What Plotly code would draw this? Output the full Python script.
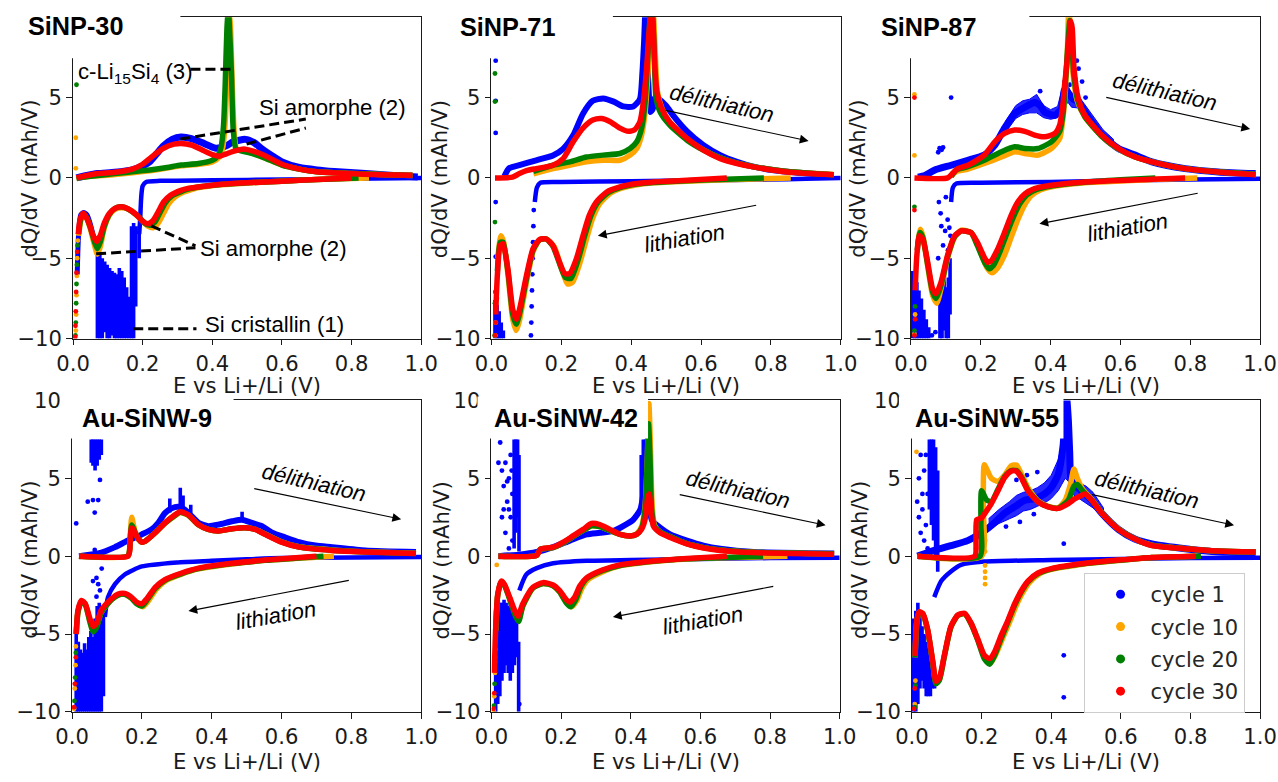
import plotly.graph_objects as go

# ---------------- labels ----------------
cycle_names = ["cycle 1", "cycle 10", "cycle 20", "cycle 30"]
cycle_colors = ["#0000ff", "#ffa500", "#008000", "#ff0000"]
panel_titles = ["SiNP-30", "SiNP-71", "SiNP-87", "Au-SiNW-9", "Au-SiNW-42", "Au-SiNW-55"]
x_tick_vals = [0.0, 0.2, 0.4, 0.6, 0.8, 1.0]
x_tick_text = ["0.0", "0.2", "0.4", "0.6", "0.8", "1.0"]
y_tick_vals = [-10, -5, 0, 5, 10]
y_tick_text = ["\u221210", "\u22125", "0", "5", "10"]
x_title = "E vs Li+/Li (V)"
y_title = "dQ/dV (mAh/V)"

# ---------------- data: (E [V], dQ/dV [mAh/V]) ----------------
# ---- SiNP-30 ----
p1_c1_delith = [(0.01,0.0),(0.04,0.15),(0.07,0.27),(0.12,0.35),(0.17,0.5),(0.2,0.75),(0.22,1.0),(0.24,1.5),(0.26,2.0),(0.285,2.4),(0.31,2.55),(0.34,2.45),(0.37,2.2),(0.41,1.85),(0.44,2.0),(0.46,2.25),(0.495,2.4),(0.52,2.2),(0.54,1.85),(0.57,1.4),(0.6,1.0),(0.65,0.65),(0.7,0.5),(0.75,0.4),(0.84,0.27),(0.92,0.15),(0.99,0.06)]
p1_c10_delith = [(0.01,0.0),(0.05,0.1),(0.12,0.22),(0.22,0.45),(0.31,0.75),(0.36,0.85),(0.4,1.0),(0.42,1.3),(0.43,1.9),(0.437,3.5),(0.442,6.5),(0.447,10.5),(0.452,9.5),(0.457,6.0),(0.463,2.8),(0.47,1.8),(0.49,1.7),(0.52,1.5),(0.55,1.25),(0.6,0.8),(0.65,0.55),(0.7,0.38),(0.8,0.28),(0.9,0.2),(0.975,0.15)]
p1_c20_delith = [(0.01,0.0),(0.05,0.1),(0.12,0.27),(0.17,0.38),(0.22,0.5),(0.27,0.65),(0.31,0.8),(0.36,0.9),(0.4,1.1),(0.415,1.35),(0.425,1.9),(0.432,3.2),(0.437,5.8),(0.442,9.3),(0.446,10.5),(0.45,9.0),(0.455,6.5),(0.46,3.0),(0.468,1.8),(0.48,1.7),(0.51,1.55),(0.55,1.25),(0.6,0.8),(0.65,0.55),(0.7,0.38),(0.8,0.28),(0.9,0.2),(0.975,0.17)]
p1_c30_delith = [(0.01,0.0),(0.04,0.15),(0.07,0.27),(0.12,0.35),(0.17,0.55),(0.2,0.85),(0.22,1.2),(0.24,1.55),(0.26,1.85),(0.29,2.1),(0.31,2.15),(0.34,2.05),(0.37,1.75),(0.4,1.45),(0.42,1.35),(0.44,1.5),(0.46,1.65),(0.49,1.8),(0.52,1.65),(0.55,1.4),(0.6,0.85),(0.65,0.55),(0.7,0.38),(0.79,0.27),(0.88,0.2),(0.975,0.17)]
p1_c1_lith = [(1.0,0.0),(0.8,-0.05),(0.6,-0.1),(0.4,-0.15),(0.25,-0.18),(0.21,-0.25),(0.2,-0.5),(0.197,-0.9),(0.195,-1.5),(0.193,-2.5),(0.19,-3.5)]
p1_c1_lith_low = [(0.012,-6.0),(0.016,-3.5),(0.022,-2.3),(0.03,-2.15),(0.04,-2.3),(0.05,-2.9),(0.058,-3.6),(0.066,-4.3),(0.072,-4.8)]
p1_c10_lith = [(0.85,0.0),(0.7,-0.1),(0.6,-0.2),(0.5,-0.32),(0.4,-0.48),(0.36,-0.6),(0.34,-0.72),(0.315,-0.9),(0.295,-1.15),(0.275,-1.6),(0.26,-2.2),(0.245,-2.8),(0.23,-3.1),(0.215,-3.0),(0.2,-2.7),(0.18,-2.25),(0.16,-1.95),(0.14,-1.85),(0.12,-1.95),(0.105,-2.3),(0.09,-3.1),(0.078,-4.3),(0.07,-4.75),(0.062,-4.2),(0.05,-3.2),(0.04,-2.55),(0.03,-2.3),(0.022,-2.7),(0.016,-3.6)]
p1_c20_lith = [(0.82,0.0),(0.7,-0.1),(0.6,-0.2),(0.5,-0.3),(0.4,-0.45),(0.36,-0.56),(0.33,-0.7),(0.31,-0.85),(0.285,-1.1),(0.265,-1.55),(0.25,-2.15),(0.235,-2.75),(0.22,-2.95),(0.205,-2.8),(0.19,-2.45),(0.17,-2.1),(0.15,-1.85),(0.135,-1.8),(0.12,-1.9),(0.105,-2.25),(0.09,-3.0),(0.078,-4.0),(0.07,-4.4),(0.062,-4.0),(0.05,-3.1),(0.04,-2.5),(0.03,-2.25),(0.022,-2.6),(0.016,-3.5)]
p1_c30_lith = [(0.8,0.0),(0.7,-0.1),(0.6,-0.2),(0.5,-0.3),(0.456,-0.35),(0.4,-0.45),(0.36,-0.56),(0.33,-0.65),(0.31,-0.77),(0.28,-1.08),(0.26,-1.5),(0.245,-2.1),(0.23,-2.65),(0.215,-2.85),(0.2,-2.7),(0.185,-2.35),(0.168,-2.05),(0.15,-1.85),(0.139,-1.8),(0.12,-1.9),(0.105,-2.2),(0.09,-2.8),(0.078,-3.6),(0.068,-3.95),(0.058,-3.6),(0.048,-2.95),(0.038,-2.45),(0.029,-2.2),(0.02,-2.6),(0.015,-3.5)]
p1_c1_dots = []
p1_c10_dots = [(0.008,2.5),(0.008,0.6),(0.014,-3.9),(0.012,-5.0),(0.011,-6.1),(0.01,-7.3),(0.009,-8.5),(0.008,-9.5)]
p1_c20_dots = [(0.01,5.8),(0.013,-4.2),(0.011,-5.4),(0.01,-6.6),(0.009,-7.8),(0.008,-9.0),(0.007,-9.8)]
p1_c30_dots = [(0.012,-4.6),(0.01,-5.9),(0.009,-7.1),(0.008,-8.3),(0.007,-9.2),(0.006,-9.9)]
p1_c1_streaks = [(0.07,-10,-4.6),(0.077,-10,-4.8),(0.084,-10,-5.0),(0.091,-9.6,-5.2),(0.098,-10,-5.4),(0.105,-10,-5.6),(0.112,-9.8,-5.8),(0.119,-10,-5.9),(0.126,-10,-6.0),(0.133,-10,-5.6),(0.14,-10,-5.8),(0.147,-10,-6.2),(0.154,-10,-6.8),(0.161,-10,-7.4),(0.168,-10,-3.0),(0.174,-10,-2.8),(0.18,-8.0,-3.0),(0.19,-5.0,-3.0)]

# ---- SiNP-71 ----
p2_c1_delith = [(0.037,0.1),(0.05,0.6),(0.08,0.8),(0.128,1.1),(0.176,1.4),(0.205,1.8),(0.234,2.65),(0.262,4.0),(0.29,4.8),(0.32,4.95),(0.35,4.75),(0.377,4.45),(0.406,4.45),(0.425,4.9),(0.432,6.5),(0.437,8.5),(0.441,10.5),(0.445,8.0),(0.45,5.5),(0.455,4.1),(0.462,4.3),(0.468,5.0),(0.48,4.9),(0.5,4.5),(0.52,3.9),(0.56,2.9),(0.607,2.04),(0.655,1.42),(0.703,1.0),(0.75,0.7),(0.847,0.38),(0.98,0.17)]
p2_c10_delith = [(0.12,0.25),(0.176,0.58),(0.224,0.79),(0.272,1.0),(0.32,1.1),(0.368,1.1),(0.397,1.42),(0.416,1.83),(0.43,2.67),(0.44,4.1),(0.449,6.8),(0.457,9.75),(0.462,10.8),(0.468,8.3),(0.475,5.4),(0.49,4.2),(0.51,3.4),(0.56,2.4),(0.607,1.75),(0.655,1.25),(0.703,0.92),(0.75,0.7),(0.847,0.4),(0.98,0.22)]
p2_c20_delith = [(0.12,0.4),(0.176,0.79),(0.224,1.0),(0.272,1.3),(0.32,1.42),(0.368,1.52),(0.397,1.83),(0.416,2.25),(0.43,3.1),(0.44,4.75),(0.447,7.25),(0.454,10.0),(0.459,10.8),(0.466,7.9),(0.471,5.0),(0.483,4.1),(0.51,3.3),(0.56,2.35),(0.607,1.73),(0.655,1.25),(0.703,0.92),(0.75,0.7),(0.847,0.4),(0.98,0.2)]
p2_c30_delith = [(0.01,0.0),(0.06,0.05),(0.08,0.27),(0.1,0.45),(0.128,0.58),(0.176,0.79),(0.205,1.2),(0.234,2.25),(0.262,3.1),(0.29,3.6),(0.315,3.7),(0.34,3.5),(0.368,3.1),(0.392,2.9),(0.41,3.0),(0.425,3.5),(0.435,4.75),(0.444,6.8),(0.452,9.3),(0.459,10.6),(0.464,8.9),(0.468,6.8),(0.475,5.2),(0.488,4.3),(0.51,3.5),(0.56,2.46),(0.607,1.73),(0.655,1.2),(0.703,0.9),(0.75,0.69),(0.847,0.375),(0.98,0.2)]
p2_c1_lith = [(1.0,0.0),(0.9,-0.05),(0.8,-0.1),(0.6,-0.15),(0.4,-0.2),(0.2,-0.25),(0.14,-0.3),(0.13,-0.6),(0.124,-1.5)]
p2_c10_lith = [(0.857,0.0),(0.7,-0.1),(0.56,-0.2),(0.464,-0.3),(0.416,-0.42),(0.37,-0.65),(0.34,-0.95),(0.31,-1.6),(0.29,-2.5),(0.272,-3.8),(0.253,-5.3),(0.232,-6.5),(0.218,-6.6),(0.2,-5.6),(0.18,-4.3),(0.157,-3.8),(0.138,-3.85),(0.119,-4.6),(0.1,-6.5),(0.08,-8.9),(0.071,-9.5),(0.061,-8.8),(0.047,-6.0),(0.035,-4.0),(0.027,-3.6),(0.018,-5.0)]
p2_c20_lith = [(0.78,0.0),(0.65,-0.1),(0.56,-0.17),(0.464,-0.28),(0.416,-0.38),(0.368,-0.6),(0.335,-0.9),(0.305,-1.5),(0.285,-2.33),(0.267,-3.6),(0.248,-5.1),(0.228,-6.25),(0.212,-6.2),(0.196,-5.4),(0.176,-4.25),(0.157,-3.8),(0.138,-3.85),(0.119,-4.5),(0.1,-6.3),(0.08,-8.5),(0.071,-9.1),(0.061,-8.5),(0.047,-5.8),(0.033,-4.0),(0.025,-4.0),(0.017,-5.8)]
p2_c30_lith = [(0.674,0.0),(0.56,-0.15),(0.464,-0.25),(0.416,-0.35),(0.368,-0.56),(0.33,-0.875),(0.3,-1.5),(0.28,-2.33),(0.262,-3.6),(0.243,-5.04),(0.224,-5.95),(0.21,-5.95),(0.195,-5.25),(0.176,-4.2),(0.157,-3.8),(0.138,-3.83),(0.119,-4.4),(0.1,-6.1),(0.08,-8.2),(0.071,-8.8),(0.061,-8.2),(0.047,-5.67),(0.033,-4.1),(0.025,-4.2),(0.017,-6.0),(0.012,-8.5)]
p2_c1_dots = [(0.012,7.3),(0.012,4.8),(0.012,2.8),(0.012,-1.5),(0.012,-4.9),(0.121,-2.0),(0.12,-3.0),(0.119,-4.0),(0.118,-5.0),(0.117,-6.0),(0.116,-7.0),(0.115,-8.0),(0.114,-9.0),(0.113,-9.8)]
p2_c10_dots = [(0.012,-9.0),(0.011,-9.8),(0.016,-7.5)]
p2_c20_dots = [(0.01,6.5),(0.01,4.75),(0.01,-2.75),(0.011,-7.1),(0.01,-7.8),(0.009,-9.8)]
p2_c30_dots = [(0.012,-9.0),(0.01,-9.8)]
p2_c1_streaks = [(0.01,-10,-7.6),(0.016,-10,-7.9),(0.022,-10,-8.3),(0.028,-10,-9.0),(0.034,-10,-9.5)]

# ---- SiNP-87 ----
p3_c1_delith = [(0.02,0.05),(0.04,0.15),(0.067,0.48),(0.115,0.79),(0.163,1.1),(0.21,1.42),(0.24,2.04),(0.268,3.1),(0.297,4.0),(0.326,4.4),(0.354,4.7),(0.37,4.5),(0.383,4.1),(0.412,3.9),(0.431,4.3),(0.44,5.5),(0.45,5.3),(0.465,4.9),(0.479,4.75),(0.498,4.1),(0.517,3.5),(0.546,2.67),(0.594,1.83),(0.642,1.42),(0.69,1.0),(0.785,0.58),(0.88,0.375),(0.987,0.27)]
p3_c10_delith = [(0.115,0.1),(0.13,0.4),(0.163,0.55),(0.21,0.9),(0.259,1.3),(0.297,1.63),(0.326,1.52),(0.364,1.42),(0.402,1.83),(0.426,2.46),(0.44,4.75),(0.448,8.0),(0.452,10.5),(0.458,9.0),(0.464,6.5),(0.476,4.8),(0.498,3.8),(0.546,2.6),(0.594,1.8),(0.642,1.3),(0.69,1.0),(0.785,0.58),(0.88,0.38),(0.987,0.22)]
p3_c20_delith = [(0.115,0.1),(0.13,0.5),(0.163,0.7),(0.21,1.1),(0.259,1.63),(0.297,1.94),(0.326,1.83),(0.364,1.83),(0.402,2.25),(0.426,2.9),(0.436,4.1),(0.445,6.8),(0.45,8.5),(0.455,9.8),(0.46,8.8),(0.466,6.5),(0.478,4.8),(0.498,3.8),(0.546,2.6),(0.594,1.8),(0.642,1.3),(0.69,1.0),(0.785,0.58),(0.88,0.38),(0.987,0.22)]
p3_c30_delith = [(0.01,0.0),(0.105,0.0),(0.12,0.3),(0.134,0.58),(0.163,0.79),(0.21,1.42),(0.24,2.25),(0.268,2.77),(0.297,2.98),(0.326,2.9),(0.354,2.67),(0.383,2.56),(0.412,2.77),(0.426,3.3),(0.436,4.75),(0.44,5.8),(0.445,6.8),(0.452,8.5),(0.458,9.75),(0.462,9.3),(0.467,6.8),(0.479,4.96),(0.498,3.9),(0.546,2.67),(0.594,1.83),(0.642,1.3),(0.69,1.0),(0.785,0.58),(0.88,0.375),(0.987,0.2)]
p3_c1_lith = [(1.0,-0.05),(0.8,-0.1),(0.6,-0.15),(0.4,-0.25),(0.2,-0.3),(0.13,-0.35),(0.12,-0.6),(0.115,-1.5)]
p3_c10_lith = [(0.82,0.0),(0.69,-0.1),(0.498,-0.3),(0.402,-0.55),(0.37,-0.75),(0.345,-1.1),(0.325,-1.7),(0.306,-2.6),(0.287,-3.7),(0.268,-4.8),(0.248,-5.6),(0.232,-5.9),(0.218,-5.6),(0.195,-4.4),(0.172,-3.4),(0.144,-3.25),(0.125,-3.7),(0.105,-5.0),(0.086,-6.9),(0.074,-7.8),(0.062,-7.3),(0.048,-5.5),(0.034,-3.6),(0.027,-3.2),(0.019,-4.2)]
p3_c20_lith = [(0.7,0.0),(0.6,-0.12),(0.498,-0.27),(0.402,-0.5),(0.36,-0.72),(0.332,-1.05),(0.312,-1.6),(0.293,-2.45),(0.274,-3.5),(0.255,-4.6),(0.236,-5.45),(0.224,-5.65),(0.212,-5.3),(0.19,-4.2),(0.172,-3.4),(0.144,-3.3),(0.125,-3.65),(0.105,-4.9),(0.086,-6.7),(0.072,-7.5),(0.062,-7.1),(0.048,-5.4),(0.034,-3.7),(0.026,-3.4),(0.018,-4.5)]
p3_c30_lith = [(0.785,0.0),(0.69,-0.08),(0.498,-0.25),(0.402,-0.46),(0.354,-0.67),(0.326,-1.0),(0.306,-1.5),(0.287,-2.33),(0.268,-3.4),(0.249,-4.4),(0.23,-5.15),(0.22,-5.25),(0.21,-4.94),(0.19,-4.0),(0.172,-3.4),(0.144,-3.3),(0.125,-3.6),(0.105,-4.8),(0.086,-6.5),(0.072,-7.2),(0.062,-6.9),(0.048,-5.25),(0.034,-3.8),(0.024,-3.6),(0.017,-4.8),(0.012,-7.0)]
p3_c1_dots = [(0.115,5.0),(0.078,1.6),(0.082,1.85),(0.088,1.75),(0.092,1.9),(0.44,6.0),(0.445,6.6),(0.475,7.3),(0.48,6.8),(0.47,6.2),(0.455,5.8),(0.49,6.0),(0.37,5.4),(0.5,5.0),(0.08,-1.5),(0.085,-2.2),(0.1,-1.2),(0.105,-2.6),(0.11,-3.1),(0.113,-3.6),(0.115,-4.3),(0.098,-3.3),(0.087,-3.0),(0.092,-4.2),(0.078,-5.0),(0.106,-4.5),(0.06,-9.8),(0.07,-9.6)]
p3_c10_dots = [(0.01,5.2),(0.01,1.4),(0.012,-8.5),(0.01,-9.7)]
p3_c20_dots = [(0.01,-1.8),(0.012,-8.0),(0.01,-9.5)]
p3_c30_dots = [(0.01,5.0),(0.01,-2.0),(0.012,-8.8),(0.01,-9.8)]
p3_c1_streaks = [(0.005,-10,-5.8),(0.011,-10,-6.0),(0.017,-10,-6.5),(0.023,-10,-7.0),(0.03,-10,-7.5),(0.037,-10,-8.2),(0.044,-10,-8.8),(0.051,-10,-9.3),(0.083,-10,-7.5),(0.089,-10,-6.5),(0.095,-9.5,-6.0),(0.101,-10,-6.8),(0.107,-10,-6.2),(0.112,-8.5,-5.0)]
p3_c1_band = [(0.27,2.8,3.5),(0.3,3.7,4.5),(0.32,3.95,4.8),(0.34,4.05,4.9),(0.36,4.05,5.2),(0.38,3.75,4.5),(0.4,3.65,4.25),(0.42,3.75,4.45),(0.43,4.05,5.3),(0.44,4.5,5.9),(0.45,4.7,5.7),(0.46,4.4,5.3),(0.48,4.35,5.1),(0.5,3.75,4.5),(0.52,3.15,3.9),(0.55,2.45,3.0),(0.58,1.95,2.4)]

# ---- Au-SiNW-9 ----
p4_c1_delith = [(0.02,0.0),(0.075,0.17),(0.123,0.58),(0.151,0.9),(0.17,1.1),(0.2,1.4),(0.228,1.72),(0.247,2.14),(0.266,2.76),(0.285,3.07),(0.305,3.17),(0.324,2.97),(0.343,2.55),(0.362,2.14),(0.39,1.93),(0.42,2.03),(0.458,2.24),(0.487,2.34),(0.515,2.14),(0.544,1.93),(0.573,1.51),(0.611,1.2),(0.65,0.9),(0.697,0.68),(0.745,0.58),(0.84,0.37),(0.985,0.27)]
p4_c10_delith = [(0.02,0.0),(0.16,0.0),(0.165,0.5),(0.168,1.8),(0.171,2.5),(0.176,2.0),(0.182,1.5),(0.19,1.1),(0.2,0.9),(0.209,0.95),(0.238,1.5),(0.266,2.1),(0.295,2.6),(0.31,2.8),(0.333,2.62),(0.362,2.0),(0.39,1.72),(0.42,1.62),(0.458,1.76),(0.496,1.83),(0.525,1.72),(0.553,1.42),(0.6,0.92),(0.65,0.6),(0.745,0.4),(0.84,0.28),(0.985,0.18)]
p4_c20_delith = [(0.02,0.0),(0.16,0.0),(0.165,0.4),(0.168,1.5),(0.171,2.0),(0.176,1.8),(0.182,1.45),(0.19,1.1),(0.2,0.9),(0.209,0.95),(0.238,1.5),(0.266,2.12),(0.295,2.62),(0.31,2.82),(0.333,2.64),(0.362,2.02),(0.39,1.72),(0.42,1.62),(0.458,1.76),(0.496,1.83),(0.525,1.72),(0.553,1.41),(0.6,0.91),(0.65,0.59),(0.745,0.38),(0.84,0.27),(0.985,0.17)]
p4_c30_delith = [(0.02,0.0),(0.16,0.0),(0.165,0.3),(0.167,1.2),(0.17,1.8),(0.175,1.75),(0.18,1.5),(0.19,1.1),(0.2,0.9),(0.209,0.95),(0.238,1.5),(0.266,2.14),(0.295,2.66),(0.31,2.86),(0.333,2.66),(0.362,2.03),(0.39,1.72),(0.42,1.62),(0.458,1.76),(0.496,1.83),(0.525,1.72),(0.553,1.4),(0.6,0.9),(0.65,0.58),(0.745,0.37),(0.84,0.27),(0.985,0.17)]
p4_c1_lith = [(1.0,-0.05),(0.8,-0.08),(0.6,-0.12),(0.5,-0.2),(0.4,-0.3),(0.3,-0.4),(0.2,-0.66),(0.151,-1.18),(0.123,-1.8),(0.103,-2.63),(0.094,-3.9)]
p4_c10_lith = [(0.75,0.0),(0.553,-0.27),(0.458,-0.5),(0.362,-0.82),(0.314,-1.15),(0.27,-1.55),(0.242,-2.1),(0.218,-2.9),(0.203,-3.25),(0.188,-3.05),(0.17,-2.7),(0.151,-2.45),(0.132,-2.5),(0.113,-2.8),(0.084,-3.6),(0.07,-4.5),(0.06,-4.75),(0.051,-4.2),(0.038,-3.1),(0.027,-2.9),(0.017,-3.6),(0.012,-5.0)]
p4_c20_lith = [(0.72,0.0),(0.553,-0.27),(0.458,-0.48),(0.362,-0.8),(0.314,-1.12),(0.266,-1.55),(0.238,-2.08),(0.214,-2.85),(0.2,-3.2),(0.185,-3.05),(0.17,-2.7),(0.151,-2.45),(0.132,-2.5),(0.113,-2.8),(0.084,-3.6),(0.07,-4.6),(0.06,-4.85),(0.051,-4.2),(0.038,-3.1),(0.027,-2.9),(0.017,-3.6),(0.012,-5.0)]
p4_c30_lith = [(0.7,0.0),(0.553,-0.25),(0.458,-0.46),(0.362,-0.77),(0.314,-1.08),(0.266,-1.5),(0.238,-2.0),(0.214,-2.74),(0.2,-3.05),(0.185,-2.95),(0.17,-2.63),(0.151,-2.39),(0.132,-2.43),(0.113,-2.74),(0.084,-3.46),(0.07,-4.3),(0.06,-4.5),(0.051,-4.0),(0.038,-3.05),(0.027,-2.84),(0.017,-3.46),(0.012,-5.0)]
p4_c1_dots = [(0.012,2.1),(0.045,3.5),(0.06,3.6),(0.065,2.8),(0.08,4.9),(0.065,0.4),(0.07,-1.4),(0.075,-1.8),(0.085,-0.8),(0.06,-1.6),(0.08,-2.2),(0.07,-2.6),(0.075,3.6)]
p4_c10_dots = [(0.011,-5.8),(0.01,-7.0),(0.008,-8.5),(0.006,-9.8)]
p4_c20_dots = [(0.011,-6.2),(0.009,-7.8),(0.007,-9.3)]
p4_c30_dots = [(0.011,-6.5),(0.008,-8.2),(0.006,-9.7)]
p4_c1_streaks = [(0.012,-10,-4.6),(0.018,-10,-5.5),(0.024,-10,-6.0),(0.03,-10,-6.2),(0.036,-10,-5.6),(0.042,-10,-6.0),(0.048,-10,-5.2),(0.054,-10,-4.8),(0.06,-10,-5.2),(0.066,-10,-4.0),(0.072,-10,-3.2),(0.078,-10,-3.0),(0.084,-10,-3.3),(0.09,-9.0,-3.6),(0.055,6.0,7.5),(0.06,5.8,7.5),(0.066,5.5,7.5),(0.072,5.8,7.5),(0.078,6.2,7.5),(0.084,6.5,7.5),(0.28,2.8,3.7),(0.31,3.0,4.4),(0.318,3.0,3.9),(0.34,2.5,3.3),(0.487,2.3,2.86)]

# ---- Au-SiNW-42 ----
p5_c1_delith = [(0.02,0.0),(0.08,0.1),(0.13,0.27),(0.177,0.58),(0.225,1.0),(0.273,1.4),(0.311,1.5),(0.35,1.62),(0.378,1.93),(0.407,2.34),(0.427,2.97),(0.436,4.0),(0.441,5.66),(0.446,7.3),(0.45,6.7),(0.455,3.6),(0.46,2.34),(0.484,1.83),(0.513,1.4),(0.561,1.0),(0.609,0.68),(0.657,0.48),(0.753,0.27),(0.984,0.17)]
p5_c10_delith = [(0.02,0.0),(0.13,0.05),(0.14,0.45),(0.177,0.55),(0.206,0.85),(0.234,1.25),(0.263,1.65),(0.287,1.95),(0.311,1.9),(0.34,1.65),(0.369,1.4),(0.398,1.3),(0.417,1.45),(0.431,1.9),(0.441,3.2),(0.448,6.5),(0.452,9.8),(0.456,7.5),(0.461,3.5),(0.468,2.0),(0.484,1.55),(0.513,1.25),(0.561,0.8),(0.609,0.55),(0.657,0.4),(0.753,0.25),(0.984,0.15)]
p5_c20_delith = [(0.02,0.0),(0.13,0.05),(0.14,0.45),(0.177,0.55),(0.206,0.85),(0.234,1.25),(0.263,1.65),(0.287,1.95),(0.311,1.9),(0.34,1.65),(0.369,1.4),(0.398,1.3),(0.417,1.4),(0.431,1.8),(0.441,3.0),(0.447,6.0),(0.451,8.5),(0.455,6.5),(0.46,3.0),(0.468,1.9),(0.484,1.55),(0.513,1.25),(0.561,0.8),(0.609,0.55),(0.657,0.4),(0.753,0.25),(0.984,0.15)]
p5_c30_delith = [(0.02,0.0),(0.13,0.05),(0.14,0.45),(0.177,0.58),(0.206,0.9),(0.234,1.3),(0.263,1.72),(0.287,2.1),(0.311,2.03),(0.34,1.72),(0.369,1.4),(0.398,1.3),(0.417,1.4),(0.431,1.72),(0.441,2.34),(0.449,3.8),(0.453,4.0),(0.458,2.97),(0.465,1.93),(0.484,1.5),(0.513,1.2),(0.561,0.79),(0.609,0.52),(0.657,0.37),(0.753,0.23),(0.984,0.12)]
p5_c1_lith = [(1.0,-0.1),(0.8,-0.12),(0.6,-0.18),(0.4,-0.25),(0.273,-0.3),(0.177,-0.46),(0.13,-0.77),(0.1,-1.18),(0.08,-2.2)]
p5_c10_lith = [(0.85,0.0),(0.561,-0.18),(0.465,-0.35),(0.369,-0.62),(0.325,-0.95),(0.278,-1.5),(0.26,-2.05),(0.245,-2.85),(0.23,-3.25),(0.216,-3.0),(0.196,-2.3),(0.177,-1.9),(0.148,-1.75),(0.119,-2.05),(0.09,-3.2),(0.078,-4.1),(0.068,-3.7),(0.052,-2.7),(0.037,-1.85),(0.028,-1.65),(0.018,-2.5),(0.012,-4.8)]
p5_c20_lith = [(0.78,0.0),(0.561,-0.17),(0.465,-0.33),(0.369,-0.6),(0.32,-0.92),(0.273,-1.45),(0.256,-2.0),(0.242,-2.8),(0.228,-3.25),(0.215,-3.0),(0.196,-2.3),(0.177,-1.9),(0.148,-1.75),(0.119,-2.05),(0.09,-3.2),(0.078,-4.2),(0.068,-3.8),(0.052,-2.75),(0.037,-1.85),(0.028,-1.65),(0.018,-2.5),(0.012,-4.8)]
p5_c30_lith = [(0.676,0.0),(0.561,-0.15),(0.465,-0.31),(0.369,-0.56),(0.32,-0.87),(0.273,-1.39),(0.254,-1.9),(0.239,-2.63),(0.225,-2.95),(0.215,-2.8),(0.196,-2.22),(0.177,-1.85),(0.148,-1.7),(0.119,-2.0),(0.09,-3.05),(0.076,-3.85),(0.066,-3.46),(0.052,-2.63),(0.037,-1.8),(0.028,-1.6),(0.018,-2.43),(0.012,-4.7),(0.008,-7.5)]
p5_c1_dots = [(0.025,7.3),(0.03,5.5),(0.035,4.5),(0.04,6.0),(0.045,3.5),(0.05,5.0),(0.055,2.5),(0.03,2.5),(0.04,1.5),(0.05,3.0),(0.06,4.0),(0.055,6.5),(0.045,4.8),(0.035,3.0),(0.06,1.0),(0.05,0.5),(0.02,6.0),(0.058,5.5),(0.08,-9.5)]
p5_c10_dots = [(0.015,-0.56),(0.011,-6.0),(0.01,-7.5),(0.008,-9.0),(0.006,-9.9)]
p5_c20_dots = [(0.011,-6.5),(0.009,-8.2),(0.007,-9.6)]
p5_c30_dots = [(0.011,-6.8),(0.008,-8.8),(0.006,-9.8)]
p5_c1_streaks = [(0.012,-10,-3.5),(0.018,-9.5,-3.2),(0.024,-9.0,-3.0),(0.03,-8.0,-3.0),(0.036,-7.5,-2.8),(0.042,-7.0,-3.0),(0.048,-7.5,-3.2),(0.054,-8.0,-2.8),(0.06,-7.5,-3.0),(0.066,-7.0,-3.5),(0.072,-6.5,-3.8),(0.078,-10,-5.5),(0.065,0.5,7.5),(0.07,1.5,7.5),(0.075,2.5,7.5),(0.079,0.3,6.5),(0.43,3.0,6.5),(0.436,3.5,7.5),(0.442,4.0,7.5)]

# ---- Au-SiNW-55 ----
p6_c1_delith = [(0.016,0.0),(0.064,0.37),(0.112,0.68),(0.16,1.0),(0.208,1.62),(0.237,2.14),(0.266,2.76),(0.295,3.17),(0.324,3.59),(0.353,3.7),(0.381,4.0),(0.4,4.4),(0.42,5.25),(0.434,7.1),(0.439,8.8),(0.444,10.2),(0.449,8.8),(0.453,6.7),(0.458,4.83),(0.477,4.4),(0.497,4.0),(0.516,3.59),(0.545,2.76),(0.593,1.72),(0.64,1.1),(0.689,0.79),(0.785,0.48),(0.88,0.27),(0.987,0.23)]
p6_c10_delith = [(0.016,0.0),(0.2,0.0),(0.205,3.0),(0.208,5.87),(0.228,5.0),(0.247,4.8),(0.266,5.2),(0.285,5.8),(0.3,5.85),(0.314,5.3),(0.333,4.4),(0.362,3.55),(0.391,3.2),(0.42,3.1),(0.44,3.6),(0.455,4.6),(0.465,5.6),(0.475,5.0),(0.49,4.3),(0.516,3.65),(0.545,2.8),(0.593,1.75),(0.64,1.1),(0.689,0.7),(0.785,0.48),(0.88,0.33),(0.987,0.27)]
p6_c20_delith = [(0.016,0.0),(0.195,0.0),(0.198,2.0),(0.2,4.2),(0.215,3.6),(0.228,3.5),(0.247,4.3),(0.266,5.1),(0.285,5.5),(0.3,5.5),(0.314,5.1),(0.333,4.25),(0.362,3.5),(0.391,3.18),(0.42,3.08),(0.449,3.6),(0.465,4.5),(0.475,4.6),(0.49,4.2),(0.516,3.6),(0.545,2.78),(0.593,1.73),(0.64,1.1),(0.689,0.69),(0.785,0.48),(0.88,0.33),(0.987,0.27)]
p6_c30_delith = [(0.016,0.0),(0.18,0.0),(0.184,1.0),(0.186,2.34),(0.2,2.45),(0.208,2.7),(0.228,3.38),(0.247,4.2),(0.266,5.04),(0.285,5.46),(0.3,5.46),(0.314,5.04),(0.333,4.2),(0.362,3.48),(0.391,3.17),(0.42,3.07),(0.449,3.38),(0.468,3.69),(0.487,3.9),(0.497,4.0),(0.516,3.59),(0.545,2.76),(0.593,1.72),(0.64,1.1),(0.689,0.68),(0.785,0.48),(0.88,0.33),(0.987,0.27)]
p6_c1_lith = [(1.0,-0.1),(0.8,-0.12),(0.6,-0.18),(0.4,-0.25),(0.208,-0.35),(0.141,-0.56),(0.112,-0.98),(0.084,-1.6),(0.064,-2.63)]
p6_c10_lith = [(0.82,0.0),(0.689,-0.09),(0.593,-0.28),(0.497,-0.5),(0.4,-0.85),(0.365,-1.15),(0.337,-1.7),(0.318,-2.35),(0.299,-3.2),(0.28,-4.25),(0.26,-5.3),(0.24,-6.35),(0.226,-6.85),(0.21,-6.55),(0.19,-5.4),(0.17,-4.35),(0.151,-3.7),(0.132,-3.8),(0.112,-4.55),(0.093,-6.4),(0.079,-7.9),(0.069,-8.1),(0.06,-6.85),(0.045,-4.75),(0.031,-3.7),(0.021,-3.6),(0.014,-4.2),(0.009,-6.5)]
p6_c20_lith = [(0.83,0.0),(0.689,-0.09),(0.593,-0.27),(0.497,-0.48),(0.4,-0.83),(0.362,-1.12),(0.333,-1.65),(0.314,-2.3),(0.295,-3.15),(0.276,-4.2),(0.256,-5.3),(0.237,-6.4),(0.223,-6.95),(0.208,-6.6),(0.189,-5.4),(0.17,-4.35),(0.151,-3.7),(0.132,-3.8),(0.112,-4.55),(0.093,-6.45),(0.079,-7.95),(0.069,-8.2),(0.06,-6.9),(0.045,-4.75),(0.031,-3.7),(0.021,-3.6),(0.014,-4.2),(0.009,-6.5)]
p6_c30_lith = [(0.814,0.0),(0.689,-0.08),(0.593,-0.25),(0.497,-0.46),(0.4,-0.8),(0.362,-1.08),(0.333,-1.6),(0.314,-2.22),(0.295,-3.05),(0.276,-4.1),(0.256,-5.1),(0.237,-6.16),(0.223,-6.58),(0.208,-6.37),(0.189,-5.33),(0.17,-4.3),(0.151,-3.67),(0.132,-3.78),(0.112,-4.5),(0.093,-6.37),(0.079,-7.8),(0.069,-8.03),(0.06,-6.78),(0.045,-4.7),(0.031,-3.67),(0.021,-3.57),(0.014,-4.1),(0.009,-6.4)]
p6_c1_dots = [(0.436,0.8),(0.436,-6.37),(0.436,-9.07),(0.025,6.5),(0.02,5.0),(0.03,4.0),(0.035,5.5),(0.04,6.5),(0.03,3.0),(0.04,2.0),(0.02,2.5),(0.035,1.0),(0.045,0.5),(0.025,1.5),(0.015,3.5),(0.045,4.0),(0.3,4.9),(0.33,5.2),(0.36,5.4),(0.27,1.9),(0.31,2.2),(0.35,2.7)]
p6_c10_dots = [(0.013,6.7),(0.21,-1.8),(0.21,-1.4),(0.21,-1.0),(0.21,-0.6),(0.21,0.3),(0.21,1.0),(0.01,-8.0),(0.008,-9.5)]
p6_c20_dots = [(0.2,0.6),(0.01,-8.3),(0.008,-9.7)]
p6_c30_dots = [(0.184,0.5),(0.184,1.5),(0.008,-8.5),(0.006,-9.8)]
p6_c1_streaks = [(0.005,-10,-4.0),(0.011,-10,-3.5),(0.017,-9.5,-3.0),(0.023,-8.5,-3.5),(0.029,-8.0,-4.5),(0.035,-8.5,-5.0),(0.041,-9.0,-5.5),(0.047,-9.0,-6.0),(0.053,-9.0,-6.5),(0.059,-8.5,-7.0),(0.065,-8.5,-7.5),(0.05,3.0,7.5),(0.056,2.0,7.5),(0.062,1.0,7.5),(0.068,0.0,7.0),(0.074,-1.0,5.5)]
p6_c1_band = [(0.22,1.7,2.4),(0.25,2.1,3.0),(0.28,2.4,3.5),(0.3,2.6,3.9),(0.32,2.9,4.1),(0.34,3.0,4.2),(0.36,3.2,4.4),(0.38,3.4,4.7),(0.4,3.7,5.2),(0.42,4.2,6.2),(0.43,4.6,7.2),(0.44,5.0,8.5),(0.45,4.8,7.5),(0.46,4.0,5.0),(0.48,3.7,4.7),(0.5,3.4,4.5),(0.52,3.1,4.1),(0.55,2.5,3.1)]

# ---------------- assembly tables ----------------
panels = [
    dict(delith=[p1_c1_delith, p1_c10_delith, p1_c20_delith, p1_c30_delith],
         lith=[p1_c1_lith, p1_c10_lith, p1_c20_lith, p1_c30_lith],
         dots=[p1_c1_dots, p1_c10_dots, p1_c20_dots, p1_c30_dots],
         extra_blue=[p1_c1_lith_low], streaks=p1_c1_streaks, band=None, blue_w=7),
    dict(delith=[p2_c1_delith, p2_c10_delith, p2_c20_delith, p2_c30_delith],
         lith=[p2_c1_lith, p2_c10_lith, p2_c20_lith, p2_c30_lith],
         dots=[p2_c1_dots, p2_c10_dots, p2_c20_dots, p2_c30_dots],
         extra_blue=[], streaks=p2_c1_streaks, band=None, blue_w=6),
    dict(delith=[p3_c1_delith, p3_c10_delith, p3_c20_delith, p3_c30_delith],
         lith=[p3_c1_lith, p3_c10_lith, p3_c20_lith, p3_c30_lith],
         dots=[p3_c1_dots, p3_c10_dots, p3_c20_dots, p3_c30_dots],
         extra_blue=[], streaks=p3_c1_streaks, band=p3_c1_band, blue_w=7),
    dict(delith=[p4_c1_delith, p4_c10_delith, p4_c20_delith, p4_c30_delith],
         lith=[p4_c1_lith, p4_c10_lith, p4_c20_lith, p4_c30_lith],
         dots=[p4_c1_dots, p4_c10_dots, p4_c20_dots, p4_c30_dots],
         extra_blue=[], streaks=p4_c1_streaks, band=None, blue_w=6),
    dict(delith=[p5_c1_delith, p5_c10_delith, p5_c20_delith, p5_c30_delith],
         lith=[p5_c1_lith, p5_c10_lith, p5_c20_lith, p5_c30_lith],
         dots=[p5_c1_dots, p5_c10_dots, p5_c20_dots, p5_c30_dots],
         extra_blue=[], streaks=p5_c1_streaks, band=None, blue_w=6),
    dict(delith=[p6_c1_delith, p6_c10_delith, p6_c20_delith, p6_c30_delith],
         lith=[p6_c1_lith, p6_c10_lith, p6_c20_lith, p6_c30_lith],
         dots=[p6_c1_dots, p6_c10_dots, p6_c20_dots, p6_c30_dots],
         extra_blue=[], streaks=p6_c1_streaks, band=p6_c1_band, blue_w=7),
]

# ---------------- geometry ----------------
# Target positions are given in reference-image pixels; the photographed page
# appears shrunk by ~3% about its centre, so positions are expanded to compensate.
W, H = 1278, 782
SHRINK = 0.97
CX, CY = W / 2, H / 2
def fx(px):
    return (CX + (px - CX) / SHRINK) / W
def fy(py):
    return 1 - (CY + (py - CY) / SHRINK) / H
def sz(v):
    return v / SHRINK

panel_px = [(75, 422, 16, 338), (492, 840, 16, 338), (910, 1258, 16, 338),
            (74, 422, 400, 712), (492, 839, 400, 712), (911, 1258, 400, 712)]

INK = "#1a1a1a"
TICK_FONT = dict(family="DejaVu Sans", size=sz(20.5), color=INK)
axis_common = dict(showline=True, linecolor=INK, linewidth=1.3, mirror=True,
                   ticks="outside", ticklen=sz(5.5), tickwidth=1.3, tickcolor=INK,
                   showgrid=False, zeroline=False, tickfont=TICK_FONT, fixedrange=True)

fig = go.Figure()

def xy(pts):
    return [p[0] for p in pts], [p[1] for p in pts]

for i, pan in enumerate(panels):
    k = "" if i == 0 else str(i + 1)
    xa, ya = "x" + k, "y" + k
    for c in range(4):
        col = cycle_colors[c]
        if c == 0:
            if pan["band"]:
                up = [(b[0], b[2]) for b in pan["band"]]
                lo = [(b[0], b[1]) for b in pan["band"]][::-1]
                bx, by = xy(up + lo)
                fig.add_trace(go.Scatter(x=bx, y=by, mode="lines", fill="toself",
                                         fillcolor="rgba(0,0,255,0.85)",
                                         line=dict(color=col, width=1), xaxis=xa, yaxis=ya,
                                         showlegend=False, hoverinfo="skip"))
            sx, sy = [], []
            for (x, lo, hi) in pan["streaks"]:
                sx += [x, x, None]
                sy += [lo, hi, None]
            fig.add_trace(go.Scatter(x=sx, y=sy, mode="lines", line=dict(color=col, width=3.6),
                                     xaxis=xa, yaxis=ya, showlegend=False, hoverinfo="skip"))
            for seg in pan["extra_blue"]:
                ex, ey = xy(seg)
                fig.add_trace(go.Scatter(x=ex, y=ey, mode="lines",
                                         line=dict(color=col, width=5, shape="spline", smoothing=0.6),
                                         xaxis=xa, yaxis=ya, showlegend=False, hoverinfo="skip"))
        lw_d = pan["blue_w"] if c == 0 else 5.5
        lw_l = 4.5 if c == 0 else 5.5
        lx, ly = xy(pan["lith"][c])
        fig.add_trace(go.Scatter(x=lx, y=ly, mode="lines",
                                 line=dict(color=col, width=lw_l, shape="spline", smoothing=0.6),
                                 xaxis=xa, yaxis=ya, showlegend=False, hoverinfo="skip"))
        dx, dy = xy(pan["delith"][c])
        fig.add_trace(go.Scatter(x=dx, y=dy, mode="lines",
                                 line=dict(color=col, width=lw_d, shape="spline", smoothing=0.6),
                                 xaxis=xa, yaxis=ya, showlegend=False, hoverinfo="skip"))
        if pan["dots"][c]:
            px_, py_ = xy(pan["dots"][c])
            fig.add_trace(go.Scatter(x=px_, y=py_, mode="markers",
                                     marker=dict(color=col, size=4.8, line=dict(width=0)),
                                     xaxis=xa, yaxis=ya, showlegend=False, hoverinfo="skip"))

# legend entries
for c in range(4):
    fig.add_trace(go.Scatter(x=[None], y=[None], mode="markers", name=cycle_names[c],
                             marker=dict(color=cycle_colors[c], size=9),
                             xaxis="x6", yaxis="y6", showlegend=True, legendgroup=str(c)))

layout = dict(width=W, height=H, margin=dict(l=0, r=0, t=0, b=0),
              paper_bgcolor="white", plot_bgcolor="white",
              legend=dict(x=fx(1082), y=fy(573), xanchor="left", yanchor="top",
                          bgcolor="rgba(255,255,255,0.85)", bordercolor="#cccccc", borderwidth=1,
                          font=dict(family="DejaVu Sans", size=21, color="#262626"),
                          itemwidth=50, tracegroupgap=2, indentation=6))
for i, (l, r, t, b) in enumerate(panel_px):
    k = "" if i == 0 else str(i + 1)
    ytext = y_tick_text if i >= 3 else y_tick_text[:4] + [""]
    layout["xaxis" + k] = dict(domain=[fx(l), fx(r)], anchor="y" + k, range=[0, 1],
                              tickvals=x_tick_vals, ticktext=x_tick_text, **axis_common)
    layout["yaxis" + k] = dict(domain=[fy(b), min(1.0, fy(t))], anchor="x" + k, range=[-10, 10],
                              tickvals=y_tick_vals, ticktext=ytext, **axis_common)
fig.update_layout(**layout)

# white boxes hiding the top-left corner of every panel (title areas)
boxes_px = [(18, 182, 0, 57), (438, 613, 0, 57), (858, 1028, 0, 57),
            (62, 235, 396, 438), (478, 648, 396, 438), (898, 1062, 396, 438)]
shapes = []
for (x0, x1, y0, y1) in boxes_px:
    shapes.append(dict(type="rect", xref="paper", yref="paper", layer="above",
                       x0=fx(x0), x1=fx(x1), y0=fy(y1), y1=min(1.0, fy(y0)),
                       fillcolor="white", line=dict(width=0)))

# dashed leader lines (SiNP-30)
dash_px = [((192, 68), (235, 68)), ((182, 138), (307, 118)), ((248, 143), (307, 127)),
           ((153, 225), (197, 245)), ((98, 253), (197, 247)), ((135, 328), (198, 328))]
for (a, bpt) in dash_px:
    shapes.append(dict(type="line", xref="paper", yref="paper", layer="above",
                       x0=fx(a[0]), y0=fy(a[1]), x1=fx(bpt[0]), y1=fy(bpt[1]),
                       line=dict(color="black", width=3, dash="10px,5px")))
fig.update_layout(shapes=shapes)

ann = []
LAB_FONT = dict(family="DejaVu Sans", size=sz(20.5), color=INK)
# panel titles
title_px = [(28, 25), (459, 26), (878, 26), (82, 418), (493, 418), (912, 418)]
for t, (x, y) in zip(panel_titles, title_px):
    ann.append(dict(text="<b>" + t + "</b>", x=fx(x), y=fy(y), xref="paper", yref="paper",
                    xanchor="left", yanchor="middle", showarrow=False,
                    font=dict(family="Liberation Sans", size=sz(24.5), color="black")))
# axis titles
for i, (l, r, t, b) in enumerate(panel_px):
    xlab_y = 385 if i < 3 else 762
    ann.append(dict(text=x_title, x=fx((l + r) / 2), y=fy(xlab_y), xref="paper", yref="paper",
                    xanchor="center", yanchor="middle", showarrow=False, font=LAB_FONT))
ylab_px = [(22, 178), (441, 178), (857, 178), (22, 560), (442, 560), (858, 560)]
for (x, y) in ylab_px:
    xx = max(fx(x), 13 / W)
    ann.append(dict(text=y_title, x=xx, y=fy(y), xref="paper", yref="paper", textangle=-90,
                    xanchor="center", yanchor="middle", showarrow=False, font=LAB_FONT))

# SiNP-30 phase labels
NOTE_FONT = dict(family="Liberation Sans", size=sz(21.5), color="black")
ann.append(dict(text="c-Li<sub>15</sub>Si<sub>4</sub> (3)", x=fx(78), y=fy(72), xref="paper", yref="paper",
                xanchor="left", yanchor="middle", showarrow=False,
                font=dict(family="Liberation Sans", size=sz(21.5), color="black")))
ann.append(dict(text="Si amorphe (2)", x=fx(258), y=fy(106), xref="paper", yref="paper",
                xanchor="left", yanchor="middle", showarrow=False, font=NOTE_FONT))
ann.append(dict(text="Si amorphe (2)", x=fx(200), y=fy(248), xref="paper", yref="paper",
                xanchor="left", yanchor="middle", showarrow=False, font=NOTE_FONT))
ann.append(dict(text="Si cristallin (1)", x=fx(205), y=fy(324), xref="paper", yref="paper",
                xanchor="left", yanchor="middle", showarrow=False, font=NOTE_FONT))

# délithiation / lithiation labels and arrows
ITAL = dict(family="Liberation Sans", size=sz(21.5), color="black")
delith_txt_px = [(722, 102), (1163, 90), (315, 482), (738, 489), (1145, 489)]
lith_txt_px = [(684, 238), (1126, 227), (277, 615), (702, 620)]
for (x, y) in delith_txt_px:
    ann.append(dict(text="<i>délithiation</i>", x=fx(x), y=fy(y), xref="paper", yref="paper",
                    textangle=13, xanchor="center", yanchor="middle", showarrow=False, font=ITAL))
for (x, y) in lith_txt_px:
    ann.append(dict(text="<i>lithiation</i>", x=fx(x), y=fy(y), xref="paper", yref="paper",
                    textangle=-10, xanchor="center", yanchor="middle", showarrow=False, font=ITAL))
arrows_px = [((668, 110), (808, 140)), ((753, 205), (598, 235)),
             ((1107, 97), (1248, 128)), ((1193, 193), (1038, 223)),
             ((258, 489), (402, 519)), ((347, 581), (190, 611)),
             ((682, 495), (825, 525)), ((770, 587), (613, 617)),
             ((1093, 495), (1232, 525))]
for (tail, head) in arrows_px:
    ann.append(dict(text="", x=fx(head[0]), y=fy(head[1]), xref="paper", yref="paper",
                    ax=(tail[0] - head[0]) / SHRINK, ay=(tail[1] - head[1]) / SHRINK,
                    axref="pixel", ayref="pixel",
                    showarrow=True, arrowhead=2, arrowsize=1.6, arrowwidth=1.1, arrowcolor="black"))
fig.update_layout(annotations=ann)

fig.write_html("out.html", config={"displayModeBar": False},
               post_script="document.body.style.margin='0';document.body.style.overflow='hidden';")
